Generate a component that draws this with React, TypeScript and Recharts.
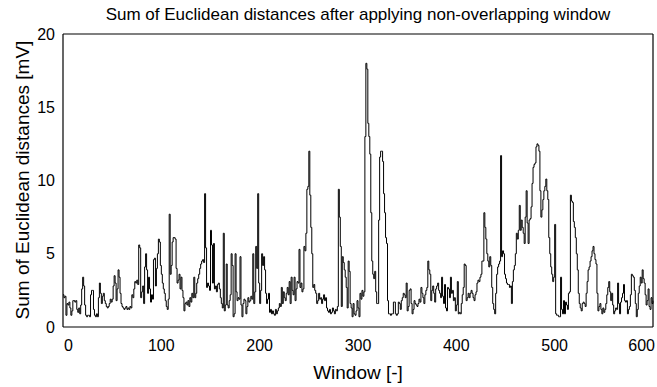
import React from 'react';
import { LineChart, Line, XAxis, YAxis } from 'recharts';

// tick positions
const xTicks = [0, 100, 200, 300, 400, 500, 600];
const yTicks = [0, 5, 10, 15, 20];

// sum of euclidean distances per window [mV], window 0..600
const distances = [
  2.2, 2.0, 2.1, 0.8, 1.6, 1.5, 1.7, 1.3, 0.8, 1.1,
  1.8, 1.8, 1.7, 1.8, 1.2, 1.0, 1.3, 0.9, 1.5, 2.6,
  3.4, 2.8, 1.5, 0.8, 0.7, 0.8, 0.8, 0.7, 2.2, 2.5,
  2.5, 1.2, 0.8, 0.7, 0.9, 0.7, 2.0, 3.0, 2.3, 1.6,
  2.1, 2.3, 1.8, 1.6, 1.4, 1.3, 1.4, 1.6, 1.9, 1.7,
  1.9, 2.8, 3.5, 3.0, 1.8, 2.6, 3.9, 3.4, 2.3, 1.6,
  1.4, 1.3, 1.2, 1.3, 1.4, 1.2, 1.3, 1.2, 1.4, 1.3,
  2.2, 2.0, 2.6, 3.1, 3.0, 3.2, 2.9, 5.6, 5.4, 2.0,
  2.4, 2.8, 1.6, 4.1, 5.0, 3.9, 2.3, 3.4, 2.6, 1.7,
  2.2, 1.9, 4.6, 4.7, 2.8, 4.0, 5.0, 6.0, 5.8, 4.2,
  3.6, 3.0, 2.6, 2.3, 1.8, 1.4, 1.2, 1.9, 7.7, 3.6,
  4.2, 5.8, 6.1, 6.1, 6.0, 4.0, 3.0, 3.2, 3.6, 2.6,
  3.4, 2.5, 2.0, 1.1, 1.6, 1.7, 1.5, 1.8, 1.4, 2.0,
  1.7, 2.3, 2.0, 3.4, 2.0, 2.3, 3.0, 3.3, 3.6, 4.0,
  4.3, 4.5, 4.6, 4.4, 9.1, 5.4, 2.7, 3.0, 2.8, 2.5,
  6.6, 5.6, 3.0, 5.7, 2.6, 2.8, 2.4, 2.9, 3.0, 2.6,
  2.0, 1.6, 1.3, 6.4, 1.1, 1.5, 4.3, 1.5, 1.3, 1.8,
  2.2, 5.0, 4.2, 0.7, 0.9, 5.0, 2.4, 1.8, 2.0, 1.9,
  4.8, 1.5, 0.7, 1.6, 1.9, 1.8, 0.9, 1.4, 2.0, 1.7,
  1.8, 2.1, 1.9, 5.0, 1.6, 2.4, 5.5, 4.0, 9.1, 3.0,
  1.6, 2.5, 5.0, 4.2, 4.8, 3.9, 2.3, 1.6, 1.9, 2.3,
  1.0, 1.2, 0.9, 1.1, 0.9, 0.8, 1.2, 0.9, 1.1, 1.3,
  1.6, 1.4, 2.7, 1.6, 2.4, 2.0, 1.8, 2.3, 2.7, 2.2,
  3.1, 1.6, 3.4, 2.5, 2.2, 3.4, 1.8, 2.6, 3.1, 3.0,
  5.3, 2.7, 3.0, 2.4, 2.6, 5.5, 5.2, 6.4, 9.4, 9.6,
  12.0, 9.0, 6.8, 5.0, 2.7, 2.9, 2.5, 2.3, 1.6, 1.8,
  2.3, 1.9, 2.0, 1.6, 1.9, 2.2, 1.8, 2.0, 1.3, 1.1,
  1.0, 1.2, 0.9, 1.0, 1.3, 1.1, 0.9, 1.2, 1.1, 1.4,
  9.4, 7.5, 5.5, 1.4, 4.8, 4.4, 3.9, 3.4, 2.7, 1.3,
  4.5, 3.8, 1.6, 1.3, 0.7, 1.6, 0.9, 0.8, 1.1, 1.8,
  1.3, 0.7, 2.3, 1.9, 2.5, 2.1, 2.4, 13.0, 18.0, 17.6,
  13.9, 13.0, 11.8, 7.8, 4.5, 3.6, 3.3, 3.8, 2.4, 1.6,
  1.6, 7.3, 11.6, 12.0, 12.0, 11.3, 9.1, 7.8, 6.1, 5.7,
  1.8, 0.9, 0.9, 0.8, 0.9, 0.9, 1.7, 1.7, 0.9, 0.8,
  0.9, 1.7, 1.6, 1.2, 1.8, 2.0, 2.3, 2.2, 2.0, 3.0,
  1.1, 1.4, 2.5, 2.6, 1.6, 0.9, 1.2, 1.8, 1.6, 1.5,
  1.4, 1.6, 1.9, 1.7, 2.7, 2.3, 2.0, 1.6, 2.2, 2.5,
  2.7, 4.5, 3.9, 3.6, 1.8, 2.5, 2.8, 2.3, 1.7, 2.6,
  2.8, 3.0, 2.5, 2.3, 2.0, 3.4, 2.1, 1.6, 2.9, 1.3,
  1.1, 2.7, 2.6, 2.0, 3.4, 2.3, 2.5, 1.8, 2.0, 1.1,
  1.5, 3.1, 0.9, 1.0, 0.9, 1.6, 2.2, 2.7, 4.3, 4.2,
  1.8, 2.0, 2.3, 2.0, 2.3, 2.5, 2.3, 2.0, 1.8, 2.2,
  2.4, 3.0, 3.2, 3.1, 3.4, 3.6, 4.5, 4.5, 7.8, 6.8,
  6.0, 5.0, 4.5, 4.1, 4.8, 4.2, 2.7, 1.6, 1.2, 0.9,
  2.3, 3.6, 4.1, 4.3, 4.5, 11.7, 4.8, 5.2, 5.0, 3.6,
  3.3, 3.0, 2.9, 2.9, 2.7, 2.8, 1.6, 3.1, 3.9, 4.2,
  5.0, 6.4, 6.0, 6.6, 8.3, 6.6, 7.3, 6.8, 6.4, 5.7,
  7.5, 9.3, 7.1, 5.7, 7.3, 7.4, 8.2, 9.8, 10.9, 11.1,
  11.2, 12.3, 12.5, 12.4, 12.0, 9.3, 7.5, 8.0, 8.7, 9.3,
  9.6, 10.1, 9.3, 8.7, 6.1, 5.0, 4.1, 3.6, 3.1, 3.4,
  7.0, 0.9, 0.8, 0.8, 0.7, 0.7, 3.4, 1.2, 0.9, 1.8,
  0.9, 1.7, 1.5, 1.2, 2.3, 2.4, 9.0, 8.6, 8.5, 7.2,
  6.8, 6.1, 5.0, 3.9, 2.3, 1.6, 1.3, 1.1, 1.6, 1.7,
  1.6, 1.4, 2.3, 3.1, 3.9, 4.1, 4.5, 4.8, 5.2, 5.5,
  5.0, 4.6, 4.3, 2.3, 1.1, 1.4, 1.6, 1.2, 0.9, 1.3,
  1.0, 1.2, 1.6, 2.2, 2.7, 3.1, 2.4, 1.8, 2.3, 1.5,
  0.9, 1.1, 1.3, 1.2, 3.0, 1.6, 0.9, 1.7, 2.0, 2.3,
  2.9, 1.8, 1.7, 1.8, 0.9, 1.2, 1.4, 2.2, 3.6, 3.5,
  3.4, 2.5, 1.6, 0.7, 1.2, 2.3, 2.8, 3.4, 3.0, 3.9,
  3.3, 3.0, 2.2, 1.5, 1.8, 2.6, 1.4, 1.2, 2.0, 1.6,
  1.8,
];

const data = distances.map((d, i) => ({ window: i, dist: d }));

const FONT = '"Liberation Sans", Arial, Helvetica, sans-serif';
const W = 657;
const H = 387;

// first/last label kept inside the frame like the original
const XTick = ({ x, y, payload }: any) => {
  const v = payload.value;
  const anchor = v === xTicks[0] ? 'start' : v === xTicks[xTicks.length - 1] ? 'end' : 'middle';
  const dx = v === xTicks[0] ? 1 : v === xTicks[xTicks.length - 1] ? 2 : 0;
  return (
    <text x={x + dx} y={y} dy="0.71em" textAnchor={anchor} fontSize={16} fontFamily={FONT} fill="#000">
      {v}
    </text>
  );
};

export default function App() {
  return (
    <div style={{ position: 'absolute', left: 0, top: 0, width: W, height: H, background: '#fff' }}>
      <LineChart width={W} height={H} data={data} margin={{ top: 34, right: 4, bottom: 0, left: 0 }}>
        {/* labelled axes */}
        <XAxis
          dataKey="window"
          type="number"
          domain={[0, 600]}
          ticks={xTicks}
          height={60}
          axisLine={false}
          tickLine={false}
          tickSize={0}
          tickMargin={13}
          tick={<XTick />}
          interval={0}
        />
        <YAxis
          type="number"
          domain={[0, 20]}
          ticks={yTicks}
          width={63}
          axisLine={false}
          tickLine={false}
          interval={0}
          tick={{ fontSize: 16, fill: '#000', fontFamily: FONT }}
        />
        {/* box with inward ticks */}
        <XAxis xAxisId="bot" type="number" domain={[0, 600]} ticks={xTicks} mirror tick={false} tickSize={5}
          axisLine={{ stroke: '#000', strokeWidth: 1.2 }} tickLine={{ stroke: '#000' }} />
        <XAxis xAxisId="top" orientation="top" type="number" domain={[0, 600]} ticks={xTicks} mirror tick={false} tickSize={5}
          axisLine={{ stroke: '#000', strokeWidth: 1.2 }} tickLine={{ stroke: '#000' }} />
        <YAxis yAxisId="lft" type="number" domain={[0, 20]} ticks={yTicks} mirror tick={false} tickSize={5}
          axisLine={{ stroke: '#000', strokeWidth: 1.2 }} tickLine={{ stroke: '#000' }} />
        <YAxis yAxisId="rgt" orientation="right" type="number" domain={[0, 20]} ticks={yTicks} mirror tick={false} tickSize={5}
          axisLine={{ stroke: '#000', strokeWidth: 1.2 }} tickLine={{ stroke: '#000' }} />
        <Line
          type="stepAfter"
          dataKey="dist"
          stroke="#000"
          strokeWidth={1}
          dot={false}
          isAnimationActive={false}
        />
      </LineChart>
      <svg width={W} height={H} style={{ position: 'absolute', left: 0, top: 0, pointerEvents: 'none' }}>
        <text x={358} y={20} textAnchor="middle" fontSize={17} fontFamily={FONT} fill="#000">
          Sum of Euclidean distances after applying non-overlapping window
        </text>
        <text x={358} y={379} textAnchor="middle" fontSize={19} fontFamily={FONT} fill="#000">
          Window [-]
        </text>
        <text x={29} y={180} transform="rotate(-90 29 180)" textAnchor="middle" fontSize={19} fontFamily={FONT} fill="#000">
          Sum of Euclidean distances [mV]
        </text>
      </svg>
    </div>
  );
}
